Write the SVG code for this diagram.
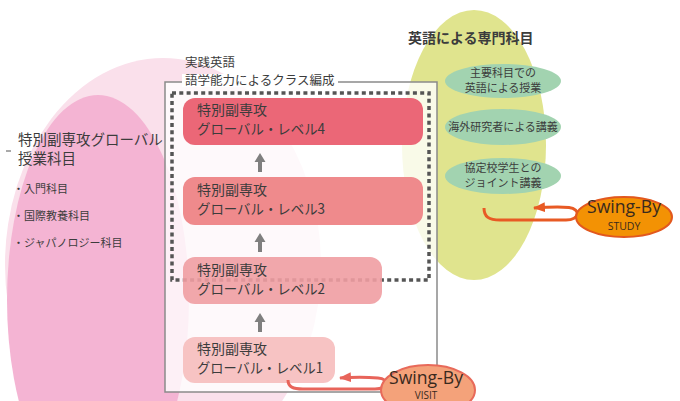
<svg xmlns="http://www.w3.org/2000/svg" width="680" height="401" viewBox="0 0 680 401">
<defs>
<style>
.jp{font-family:"Noto Sans CJK JP","Noto Sans",sans-serif;fill:#3c3c3c}
.lvl{font-size:14px}
.bul{font-size:11px}
.grn{font-size:11px;text-anchor:middle}
.sw{font-family:"Open Sans","Liberation Sans",sans-serif;fill:#3a2a1e;text-anchor:middle}
.gbox{fill:#a2d3b0}
.up{fill:#7f7f7f}
</style>
<marker id="ahS" viewBox="0 0 12 10" refX="11" refY="5" markerWidth="12" markerHeight="10" markerUnits="userSpaceOnUse" orient="auto">
<path d="M0,0 L12,5 L0,10 Z" fill="#e85a24"/>
</marker>
<marker id="ahV" viewBox="0 0 12 10" refX="11" refY="5" markerWidth="12" markerHeight="10" markerUnits="userSpaceOnUse" orient="auto">
<path d="M0,0 L12,5 L0,10 Z" fill="#e8645a"/>
</marker>
</defs>
<rect width="680" height="401" fill="#ffffff"/>

<g id="global-courses">
<ellipse cx="163" cy="265" rx="158" ry="207" fill="#fae0eb"/>
<ellipse cx="98" cy="300" rx="91" ry="205" fill="#f4b4d3"/>
<line x1="6" y1="151" x2="11" y2="151" stroke="#555" stroke-width="1"/>
<text class="jp" x="18" y="145" font-size="14.5">特別副専攻グローバル</text>
<text class="jp" x="18" y="164" font-size="14.5">授業科目</text>
<text class="jp bul" x="13" y="193">・入門科目</text>
<text class="jp bul" x="13" y="220">・国際教養科目</text>
<text class="jp bul" x="13" y="247">・ジャパノロジー科目</text>
</g>

<g id="english-courses">
<ellipse cx="474" cy="145" rx="72" ry="135" fill="#e0e48e"/>
<text class="jp" x="408" y="43" font-size="14" font-weight="bold" fill="#2e2e2e">英語による専門科目</text>
</g>

<g id="practical-english">
<rect x="165" y="82" width="272" height="310" fill="#ffffff" fill-opacity="0.8" stroke="#8a8a8a" stroke-width="1.5"/>
<rect x="182" y="74" width="156" height="13" fill="#ffffff"/>
<text class="jp" x="185" y="67" font-size="12.5">実践英語</text>
<text class="jp" x="185" y="85" font-size="12.5">語学能力によるクラス編成</text>
<rect x="172" y="93" width="257" height="187" fill="none" stroke="#555555" stroke-width="3.5" stroke-dasharray="4 3.3"/>
</g>

<g id="level4">
<rect x="183" y="98" width="240" height="47" rx="12" fill="#eb6777"/>
<text class="jp lvl" x="197" y="115">特別副専攻</text>
<text class="jp lvl" x="197" y="134" textLength="128" lengthAdjust="spacingAndGlyphs">グローバル・レベル4</text>
</g>
<g id="level3">
<rect x="183" y="177" width="240" height="48" rx="12" fill="#ef8a8c"/>
<text class="jp lvl" x="197" y="195">特別副専攻</text>
<text class="jp lvl" x="197" y="214" textLength="128" lengthAdjust="spacingAndGlyphs">グローバル・レベル3</text>
</g>
<g id="level2">
<rect x="183" y="257" width="199" height="47" rx="12" fill="#f09da2" fill-opacity="0.9"/>
<text class="jp lvl" x="197" y="275">特別副専攻</text>
<text class="jp lvl" x="197" y="294" textLength="128" lengthAdjust="spacingAndGlyphs">グローバル・レベル2</text>
</g>
<g id="level1">
<rect x="183" y="337" width="152" height="46" rx="12" fill="#f7c3c3"/>
<text class="jp lvl" x="197" y="354">特別副専攻</text>
<text class="jp lvl" x="197" y="373" textLength="126" lengthAdjust="spacingAndGlyphs">グローバル・レベル1</text>
</g>

<g id="green1">
<ellipse class="gbox" cx="503" cy="81" rx="58" ry="17"/>
<text class="jp grn" x="503" y="77">主要科目での</text>
<text class="jp grn" x="503" y="92">英語による授業</text>
</g>
<g id="green2">
<ellipse class="gbox" cx="503" cy="127" rx="58" ry="18"/>
<text class="jp grn" x="503" y="131">海外研究者による講義</text>
</g>
<g id="green3">
<ellipse class="gbox" cx="503" cy="176" rx="58" ry="18"/>
<text class="jp grn" x="503" y="172">協定校学生との</text>
<text class="jp grn" x="503" y="187">ジョイント講義</text>
</g>

<g id="connectors">
<path class="up" d="M260,153 L265.5,162 L262,162 L262,172 L258,172 L258,162 L254.5,162 Z"/>
<path class="up" d="M260,233 L265.5,242 L262,242 L262,252 L258,252 L258,242 L254.5,242 Z"/>
<path class="up" d="M260,313 L265.5,322 L262,322 L262,332 L258,332 L258,322 L254.5,322 Z"/>
<path d="M484,208 C484,217 489,220 500,220 L566,220 C580,220 581,209 569,207.5 C559,206.5 548,207 534,208" fill="none" stroke="#e85a24" stroke-width="3" marker-end="url(#ahS)"/>
<path d="M288,380 C288,387 293,389 303,389 L375,389 C389,389 390,379 378,378 C366,377 354,377 340,378" fill="none" stroke="#e8645a" stroke-width="3" marker-end="url(#ahV)"/>
</g>

<g id="swingby-study">
<ellipse cx="624" cy="217" rx="48" ry="20" fill="#f39204" stroke="#e2581e" stroke-width="2"/>
<text class="sw" x="624" y="213" font-size="18" textLength="74" lengthAdjust="spacingAndGlyphs">Swing-By</text>
<text class="sw" x="624" y="230" font-size="10.5">STUDY</text>
</g>
<g id="swingby-visit">
<ellipse cx="428" cy="390" rx="47" ry="25" fill="#f4a27a" stroke="#e86a5a" stroke-width="2"/>
<text class="sw" x="426" y="384" font-size="18" textLength="74" lengthAdjust="spacingAndGlyphs">Swing-By</text>
<text class="sw" x="426" y="399" font-size="10">VISIT</text>
</g>
</svg>
